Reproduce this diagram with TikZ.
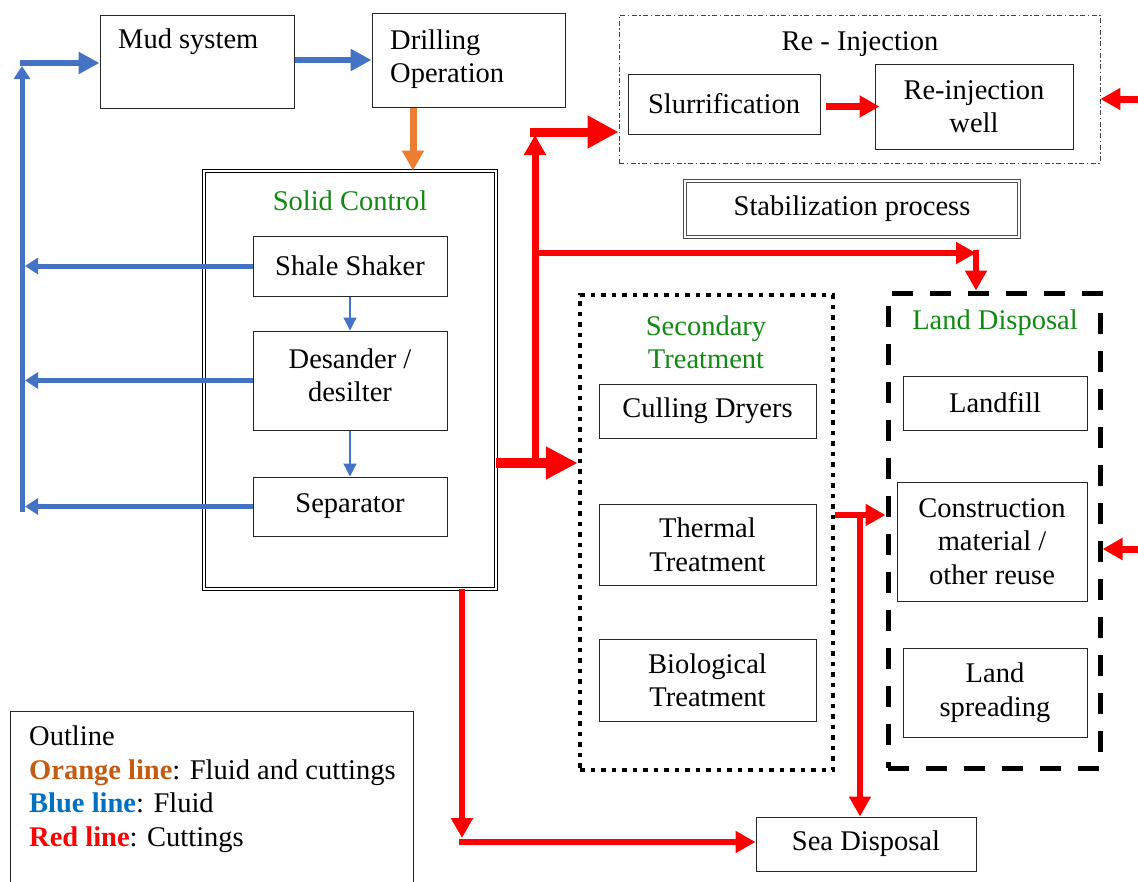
\documentclass[tikz,border=0pt]{standalone}
\usepackage{fontspec}
\setmainfont{Liberation Serif}
\usetikzlibrary{arrows.meta}

\definecolor{fluidblue}{HTML}{4472C4}
\definecolor{mixorange}{HTML}{ED7D31}
\definecolor{cutred}{HTML}{FF0000}
\definecolor{titlegreen}{HTML}{108A10}
\definecolor{legorange}{HTML}{C55A11}
\definecolor{legblue}{HTML}{0070C0}

\tikzset{
  unit/.style={draw=black!85, line width=1pt, inner sep=0pt, align=center},
  dbl/.style={draw=black, line width=0.9pt, double, double distance=2.6pt, inner sep=0pt},
  dbllight/.style={draw=black!70, line width=0.8pt, double, double distance=2pt, inner sep=0pt, align=center},
  dashdotframe/.style={draw=black!75, line width=0.9pt, dash pattern=on 5pt off 2.5pt on 1.5pt off 2.5pt, inner sep=0pt},
  dotframe/.style={draw=black, line width=4.5pt, dash pattern=on 4.5pt off 6pt, inner sep=0pt},
  dashframe/.style={draw=black, line width=5pt, dash pattern=on 21pt off 17pt, inner sep=0pt},
  grouptitle/.style={text=titlegreen, align=center, inner sep=0pt},
  plain/.style={inner sep=0pt, align=left},
  bluethick/.style={draw=fluidblue, line width=6pt, -{Triangle[length=21pt,width=21pt]}},
  bluemid/.style={draw=fluidblue, line width=5pt, -{Triangle[length=13pt,width=16pt]}},
  bluethin/.style={draw=fluidblue, line width=1.2pt, -{Triangle[length=13pt,width=13pt]}},
  orangearrow/.style={draw=mixorange, line width=7pt, -{Triangle[length=20pt,width=21pt]}},
  redbig/.style={draw=cutred, line width=10pt, -{Triangle[length=32pt,width=31pt]}},
  redwide/.style={draw=cutred, line width=9pt, -{Triangle[length=31pt,width=31pt]}},
  redmid/.style={draw=cutred, line width=7pt, -{Triangle[length=20pt,width=21pt]}},
  redthin/.style={draw=cutred, line width=6pt, -{Triangle[length=20pt,width=21pt]}},
}

\begin{document}
\begin{tikzpicture}[x=1pt, y=-1pt, font=\fontsize{28.5}{33.5}\selectfont]
\useasboundingbox (0,0) rectangle (1138,881);

% --- top row -------------------------------------------------------------
\node[unit, minimum width=194pt, minimum height=93pt] (mud) at (197,61.5) {};
\node[plain, anchor=west] (mudtxt) at (118,42) {Mud system};
\node[unit, minimum width=193pt, minimum height=94pt] (drill) at (468.5,60) {};
\node[plain, anchor=west] (drilltxt) at (390,59) {Drilling\\Operation};

% --- solid control group ---------------------------------------------------
\node[dbl, minimum width=292pt, minimum height=418pt] (solid) at (350,380) {};
\node[grouptitle] (solidtitle) at (350,201) {Solid Control};
\node[unit, minimum width=194pt, minimum height=60pt] (shale) at (350,266) {Shale Shaker};
\node[unit, minimum width=194pt, minimum height=99pt] (desander) at (350,380.5) {};
\node[plain, align=center] (desandertxt) at (350,375) {Desander /\\desilter};
\node[unit, minimum width=194pt, minimum height=59pt] (separator) at (350,506.5) {Separator};

% --- re-injection group ----------------------------------------------------
\node[dashdotframe, minimum width=481pt, minimum height=148pt] (reinj) at (859.5,89) {};
\node[plain] (reinjtitle) at (860,44) {Re - Injection};
\node[unit, minimum width=192pt, minimum height=60pt] (slurr) at (724,104) {Slurrification};
\node[unit, minimum width=198pt, minimum height=85pt] (well) at (974,106.5) {Re-injection\\well};

\node[dbllight, minimum width=334pt, minimum height=56pt] (stab) at (852,209) {Stabilization process};

% --- secondary treatment group ---------------------------------------------
\node[dotframe, minimum width=253pt, minimum height=475pt] (secondary) at (706.5,532.5) {};
\node[grouptitle] (sectitle) at (706,342) {Secondary\\Treatment};
\node[unit, minimum width=217pt, minimum height=54pt] (culling) at (707.5,411) {Culling Dryers};
\node[unit, minimum width=217pt, minimum height=81pt] (thermal) at (707.5,544.5) {Thermal\\Treatment};
\node[unit, minimum width=217pt, minimum height=82pt] (bio) at (707.5,680) {Biological\\Treatment};

% --- land disposal group ---------------------------------------------------
\node[dashframe, minimum width=212pt, minimum height=475pt] (land) at (994,530.5) {};
\node[grouptitle] (landtitle) at (995,323) {Land Disposal};
\node[unit, minimum width=184pt, minimum height=54pt] (landfill) at (995,403) {Landfill};
\node[unit, minimum width=190pt, minimum height=119pt] (constr) at (992,541.5) {Construction\\material /\\other reuse};
\node[unit, minimum width=184pt, minimum height=89pt] (spread) at (995,692.5) {Land\\spreading};

\node[unit, minimum width=220pt, minimum height=54pt] (sea) at (866,844) {Sea Disposal};

% --- legend ------------------------------------------------------------------
\node[unit, minimum width=403pt, minimum height=180pt] (legend) at (211.5,801) {};
\node[plain, anchor=west] (legtext) at (29,789) {Outline\\
  \textcolor{legorange}{\textbf{Orange line}}: Fluid and cuttings\\
  \textcolor{legblue}{\textbf{Blue line}}: Fluid\\
  \textcolor{cutred}{\textbf{Red line}}: Cuttings};

% --- fluid (blue) loop -----------------------------------------------------
\coordinate (busbottom) at (22,512);
\coordinate (bustop) at (22,66);
\coordinate (busin) at (25,0);
\draw[bluethick] (mud.east |- drill.west) -- (drill.west);
\draw[bluemid] (shale.west) -- (shale.west -| busin);
\draw[bluemid] (desander.west) -- (desander.west -| busin);
\draw[bluemid] (separator.west) -- (separator.west -| busin);
\draw[bluemid] (busbottom) -- (bustop);
\draw[bluethick] (20,63) coordinate (busturn) -- (mud.west |- busturn);
\draw[bluethin] (shale.south) -- (desander.north);
\draw[bluethin] (desander.south) -- (separator.north);

% --- fluid and cuttings (orange) -------------------------------------------
\coordinate (ocol) at (413,0);
\draw[orangearrow] (drill.south -| ocol) -- (solid.north -| ocol);

% --- cuttings (red) ----------------------------------------------------------
\coordinate (rrow) at (0,463);
\draw[redbig] (solid.east |- rrow) -- (secondary.west |- rrow);
\draw[redmid] (535,467) -- (535,135);
\draw[redwide] (530,132) coordinate (rtop) -- (reinj.west |- rtop);
\draw[redthin] (532,253) coordinate (rstab) -- (976,253);
\coordinate (lcol) at (976,0);
\draw[redthin] (976,250) -- (land.north -| lcol);

\coordinate (srow) at (0,515);
\coordinate (scol) at (860,0);
\draw[redthin] (secondary.east |- srow) -- (land.west |- srow);
\draw[redthin] (860,512) -- (sea.north -| scol);

\coordinate (dcol) at (462,0);
\draw[redthin] (solid.south -| dcol) -- (462,838);
\draw[redthin] (459,842) coordinate (dturn) -- (sea.west |- dturn);

\coordinate (slout) at ([xshift=5pt]slurr.east);
\draw[redmid] (slout |- well.west) -- ([xshift=5pt]well.west);

\coordinate (edgeA) at (1138,99);
\coordinate (edgeB) at (1138,549);
\draw[redmid] (edgeA) -- (reinj.east |- edgeA);
\draw[redmid] (edgeB) -- (land.east |- edgeB);
\end{tikzpicture}
\end{document}
